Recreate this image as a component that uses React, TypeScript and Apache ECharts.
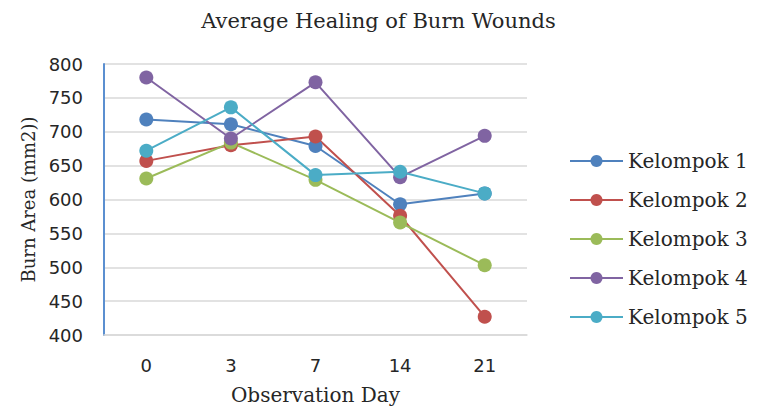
import React, { useEffect, useRef } from "react";
import * as echarts from "echarts";

const days = ["0", "3", "7", "14", "21"];
const seriesNames = ["Kelompok 1", "Kelompok 2", "Kelompok 3", "Kelompok 4", "Kelompok 5"];
const kelompok1 = [718, 711, 679, 593, 609];
const kelompok2 = [657, 680, 693, 576, 427];
const kelompok3 = [631, 684, 629, 566, 503];
const kelompok4 = [780, 690, 773, 633, 694];
const kelompok5 = [672, 736, 636, 641, 609];
const seriesValues = [kelompok1, kelompok2, kelompok3, kelompok4, kelompok5];
const colors = ["#4F81BD", "#C0504D", "#9BBB59", "#8064A2", "#4BACC6"];

export default function App() {
  const ref = useRef<HTMLDivElement>(null);
  useEffect(() => {
    if (!ref.current) return;
    const chart = echarts.init(ref.current, null, { renderer: "svg" });
    chart.setOption({
      animation: false,
      backgroundColor: "#ffffff",
      title: {
        text: "Average Healing of Burn Wounds",
        left: "center",
        top: 5,
        textStyle: { fontFamily: "DejaVu Serif", fontSize: 21, fontWeight: "normal", color: "#262626" },
      },
      legend: {
        orient: "vertical",
        left: 564,
        top: 146,
        itemWidth: 53,
        itemHeight: 15,
        itemGap: 19,
        data: seriesNames,
        textStyle: { fontFamily: "DejaVu Serif", fontSize: 20, color: "#262626", lineHeight: 20 },
      },
      grid: { left: 104, right: 230, top: 64, bottom: 68, containLabel: false },
      xAxis: {
        type: "category",
        data: days,
        boundaryGap: true,
        name: "Observation Day",
        nameLocation: "middle",
        nameGap: 50,
        nameTextStyle: { fontFamily: "DejaVu Serif", fontSize: 20, color: "#262626" },
        axisLine: { lineStyle: { color: "#D9D9D9", width: 1.5 } },
        axisTick: { show: false },
        axisLabel: { fontFamily: "DejaVu Sans", fontSize: 18, color: "#262626", margin: 21 },
      },
      yAxis: {
        type: "value",
        min: 400,
        max: 800,
        interval: 50,
        name: "Burn Area (mm2))",
        nameLocation: "middle",
        nameGap: 66,
        nameRotate: 90,
        nameTextStyle: { fontFamily: "DejaVu Serif", fontSize: 18, color: "#262626" },
        axisLine: { show: true, lineStyle: { color: "#5B8FD0", width: 2 } },
        axisTick: { show: false },
        splitLine: { lineStyle: { color: "#D9D9D9", width: 1.5 } },
        axisLabel: { fontFamily: "DejaVu Sans", fontSize: 18, color: "#262626", margin: 21 },
      },
      series: seriesNames.map((name, i) => ({
        name,
        type: "line",
        data: seriesValues[i],
        symbol: "circle",
        symbolSize: 14,
        color: colors[i],
        lineStyle: { width: 2, color: colors[i] },
        itemStyle: { color: colors[i] },
      })),
    });
    return () => chart.dispose();
  }, []);
  return <div ref={ref} style={{ width: 757, height: 410, position: "absolute", left: 0, top: 0 }} />;
}
